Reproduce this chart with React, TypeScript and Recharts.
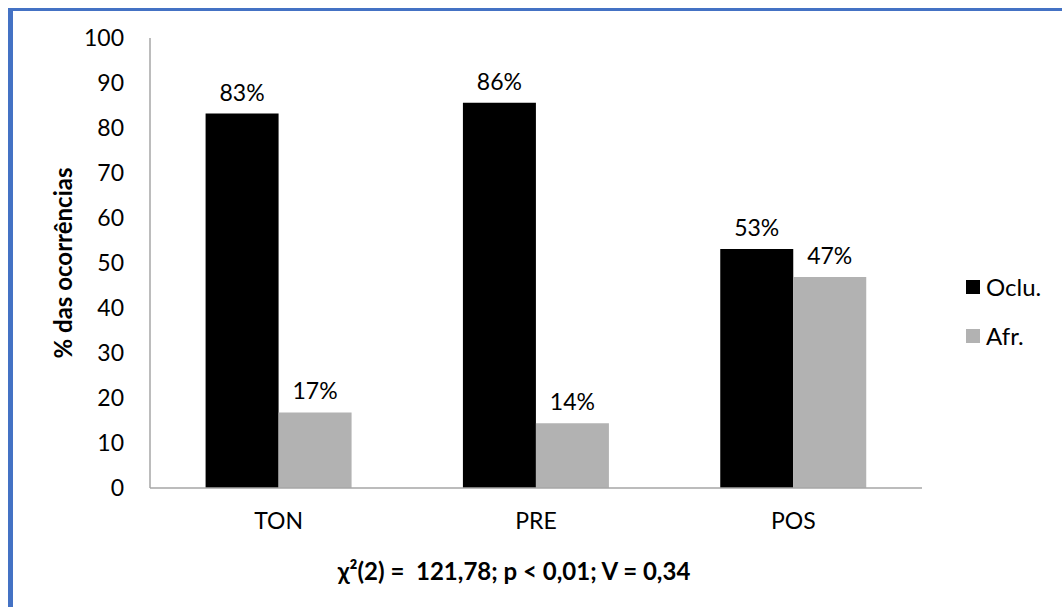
import React from 'react';
import { BarChart, Bar, XAxis, YAxis, Legend, LabelList } from 'recharts';

const categories = ['TON', 'PRE', 'POS'];
const ocluValues = [83.2, 85.6, 53.1];
const afrValues = [16.8, 14.4, 46.9];
const seriesNames = ['Oclu.', 'Afr.'];
const seriesColors = ['#000000', '#B2B2B2'];
const yTicks = [0, 10, 20, 30, 40, 50, 60, 70, 80, 90, 100];
const yTitle = '% das ocorrências';
const footnote = 'χ²(2) =  121,78; p < 0,01; V = 0,34';

const data = categories.map((c, i) => ({ name: c, oclu: ocluValues[i], afr: afrValues[i] }));

const FONT = 'Lato, "Open Sans", sans-serif';
const pct = (v: any) => `${Math.round(Number(v))}%`;

const YTitle = (props: any) => {
  const vb = props.viewBox || {};
  const cx = 62;
  const cy = vb.y + vb.height / 2;
  return (
    <text x={cx} y={cy} transform={`rotate(-90 ${cx} ${cy})`} textAnchor="middle" dominantBaseline="central"
      fontFamily={FONT} fontWeight={700} fontSize={24} fill="#000">{yTitle}</text>
  );
};

const Footnote = (props: any) => {
  const vb = props.viewBox || {};
  const cx = vb.x + vb.width / 2 - 22;
  return (
    <text x={cx} y={580} textAnchor="middle" fontFamily={FONT} fontWeight={700} fontSize={24} fill="#000"
      style={{ whiteSpace: 'pre' }}>{footnote}</text>
  );
};

const LegendContent = () => (
  <div style={{ fontFamily: FONT, fontSize: 24, color: '#000' }}>
    {seriesNames.map((n, i) => (
      <div key={n} style={{ display: 'flex', alignItems: 'center', height: 49 }}>
        <span style={{ display: 'inline-block', width: 14, height: 14, background: seriesColors[i], marginRight: 6 }} />
        <span>{n}</span>
      </div>
    ))}
  </div>
);

export default function App() {
  return (
    <div style={{ position: 'fixed', left: 0, top: 0, width: 1062, height: 607, background: '#fff', overflow: 'hidden' }}>
      <div style={{ position: 'absolute', left: 8, top: 8, right: 0, bottom: 0, borderTop: '3px solid #4472C4', borderLeft: '5px solid #4472C4', boxSizing: 'border-box' }} />
      <div style={{ position: 'absolute', left: 0, top: 0 }}>
        <BarChart width={1062} height={607} data={data} margin={{ top: 38, right: 140, bottom: 0, left: 0 }}
          barCategoryGap="21.6%" barGap={0}>
          <YAxis domain={[0, 100]} ticks={yTicks} width={150} tickLine={false} tickSize={0} tickMargin={26}
            axisLine={{ stroke: '#A6A6A6', strokeWidth: 1.5 }}
            tick={{ fontFamily: FONT, fontSize: 23, fill: '#000' }}
            label={<YTitle />} />
          <XAxis dataKey="name" height={119} tickLine={false} tickSize={0} tickMargin={25}
            axisLine={{ stroke: '#A6A6A6', strokeWidth: 1.5 }}
            tick={{ fontFamily: FONT, fontSize: 23, fill: '#000' }}
            label={<Footnote />} />
          <Legend layout="horizontal" verticalAlign="middle" align="center" content={<LegendContent />}
            wrapperStyle={{ position: 'absolute', left: 966, top: 262, width: 96 }} />
          <Bar dataKey="oclu" name={seriesNames[0]} fill={seriesColors[0]} isAnimationActive={false}>
            <LabelList dataKey="oclu" position="top" offset={13} formatter={pct}
              style={{ fontFamily: FONT, fontSize: 23, fill: '#000' }} />
          </Bar>
          <Bar dataKey="afr" name={seriesNames[1]} fill={seriesColors[1]} isAnimationActive={false}>
            <LabelList dataKey="afr" position="top" offset={13} formatter={pct}
              style={{ fontFamily: FONT, fontSize: 23, fill: '#000' }} />
          </Bar>
        </BarChart>
      </div>
    </div>
  );
}
